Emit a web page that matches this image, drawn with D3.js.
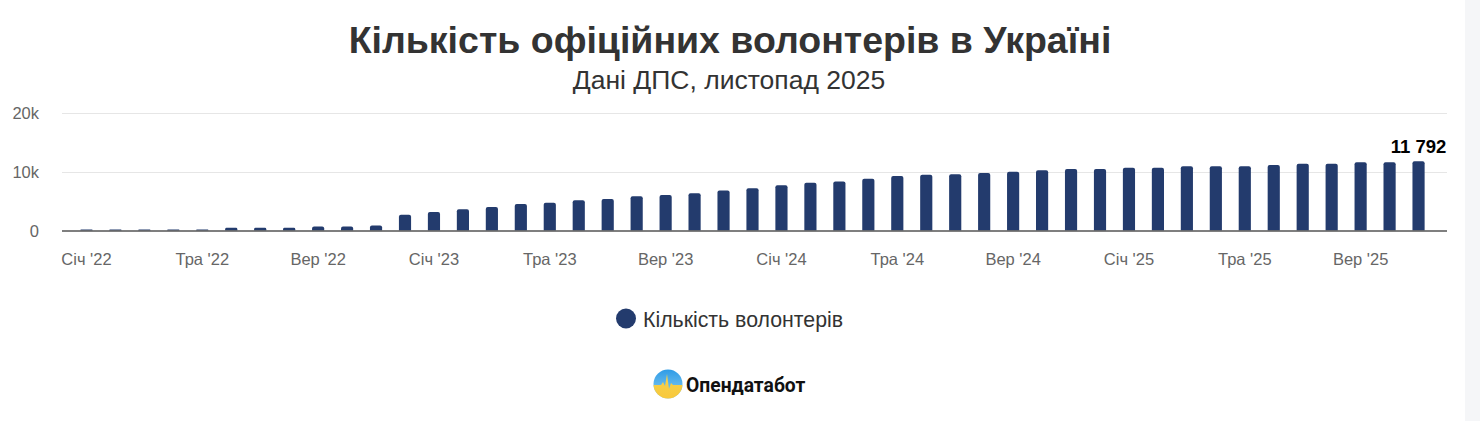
<!DOCTYPE html>
<html>
<head>
<meta charset="utf-8">
<script src="https://cdn.jsdelivr.net/npm/d3@7"></script>
<style>
  body { margin: 0; background: #f5f6f8; }
  svg { display: block; }
</style>
</head>
<body>
<svg id="chart" width="1480" height="421"></svg>
<script>
// monthly data, Jan 2022 - Nov 2025
var months = [
  "2022-01","2022-02","2022-03","2022-04","2022-05","2022-06","2022-07","2022-08","2022-09","2022-10","2022-11","2022-12",
  "2023-01","2023-02","2023-03","2023-04","2023-05","2023-06","2023-07","2023-08","2023-09","2023-10","2023-11","2023-12",
  "2024-01","2024-02","2024-03","2024-04","2024-05","2024-06","2024-07","2024-08","2024-09","2024-10","2024-11","2024-12",
  "2025-01","2025-02","2025-03","2025-04","2025-05","2025-06","2025-07","2025-08","2025-09","2025-10","2025-11"
];
var volunteers = [
  150, 150, 150, 150, 150, 460, 460, 460, 690, 690, 860, 2690,
  3140, 3600, 4000, 4510, 4740, 5140, 5370, 5830, 6060, 6340, 6800, 7200,
  7710, 8110, 8340, 8800, 9260, 9490, 9570, 9800, 10020, 10250, 10470, 10470,
  10700, 10700, 10920, 10920, 10920, 11150, 11380, 11380, 11600, 11600, 11792
];
var monthNames = ["Січ","Лют","Бер","Кві","Тра","Чер","Лип","Сер","Вер","Жов","Лис","Гру"];
var xTicks = ["2022-01","2022-05","2022-09","2023-01","2023-05","2023-09","2024-01","2024-05","2024-09","2025-01","2025-05","2025-09"];
var yTicks = [0, 10000, 20000];
var yTickLabels = ["0", "10k", "20k"];

var titleText = "Кількість офіційних волонтерів в Україні";
var subtitleText = "Дані ДПС, листопад 2025";
var seriesName = "Кількість волонтерів";
var barColor = "#233b6d";

var svg = d3.select("#chart");
var font = "'Liberation Sans', Arial, Helvetica, sans-serif";

// white chart card, grey page strip on the right
svg.append("rect").attr("x", 0).attr("y", 0).attr("width", 1465).attr("height", 421).attr("fill", "#fff");

var plotLeft = 62, plotRight = 1447;

var x = d3.scaleBand()
    .domain(months)
    .range([57.5, 1447.5])
    .paddingInner(0.58)
    .paddingOuter(0.79);

var y = d3.scaleLinear()
    .domain([0, 20000])
    .range([230.5, 113]);

// titles
svg.append("text")
    .attr("x", 730).attr("y", 53)
    .attr("text-anchor", "middle")
    .style("font-family", font).style("font-size", "37.5px").style("font-weight", "bold")
    .attr("fill", "#333")
    .text(titleText);

svg.append("text")
    .attr("x", 729).attr("y", 89)
    .attr("text-anchor", "middle")
    .style("font-family", font).style("font-size", "26.5px")
    .attr("fill", "#333")
    .text(subtitleText);

// grid
svg.append("g")
    .selectAll("line")
    .data(yTicks.slice(1))
    .enter()
    .append("line")
    .attr("x1", plotLeft).attr("x2", plotRight)
    .attr("y1", d => Math.round(y(d)) + 0.5).attr("y2", d => Math.round(y(d)) + 0.5)
    .attr("stroke", "#e6e6e6").attr("stroke-width", 1);

// y labels
svg.append("g")
    .selectAll("text")
    .data(yTicks)
    .enter()
    .append("text")
    .attr("x", 39)
    .attr("y", d => y(d) + 6)
    .attr("text-anchor", "end")
    .style("font-family", font).style("font-size", "16.5px")
    .attr("fill", "#666")
    .text((d, i) => yTickLabels[i]);

// bars
svg.append("g")
    .selectAll("path")
    .data(volunteers)
    .enter()
    .append("path")
    .attr("d", function(d, i) {
      var x0 = x(months[i]), w = x.bandwidth(), y0 = y(0), y1 = y(d);
      var r = Math.min(2, (y0 - y1) / 2);
      return "M" + x0 + "," + y0 +
        "V" + (y1 + r) +
        "Q" + x0 + "," + y1 + " " + (x0 + r) + "," + y1 +
        "H" + (x0 + w - r) +
        "Q" + (x0 + w) + "," + y1 + " " + (x0 + w) + "," + (y1 + r) +
        "V" + y0 + "Z";
    })
    .attr("fill", barColor);

// x axis line
svg.append("line")
    .attr("x1", plotLeft).attr("x2", plotRight)
    .attr("y1", 231).attr("y2", 231)
    .attr("stroke", "#555").attr("stroke-width", 1.3);

// x axis labels
var xAxis = d3.axisBottom(x)
    .tickValues(xTicks)
    .tickSize(0)
    .tickPadding(0)
    .tickFormat(function(m) {
      var parts = m.split("-");
      return monthNames[+parts[1] - 1] + " '" + parts[0].slice(2);
    });

var xg = svg.append("g")
    .attr("transform", "translate(0, 253)")
    .call(xAxis);
xg.select(".domain").remove();
xg.selectAll("text")
    .style("font-family", font).style("font-size", "16.5px")
    .attr("fill", "#666");

// last value label
var last = volunteers.length - 1;
svg.append("text")
    .attr("x", x(months[last]) + x.bandwidth() / 2)
    .attr("y", y(volunteers[last]) - 8)
    .attr("text-anchor", "middle")
    .style("font-family", font).style("font-size", "18.5px").style("font-weight", "bold")
    .attr("fill", "#000")
    .text(d3.format(",")(volunteers[last]).replace(",", " "));

// legend
var legend = svg.append("g");
legend.append("circle")
    .attr("cx", 626).attr("cy", 318.5).attr("r", 10)
    .attr("fill", barColor);
legend.append("text")
    .attr("x", 643).attr("y", 326.5)
    .style("font-family", font).style("font-size", "21.3px")
    .attr("fill", "#333")
    .text(seriesName);

// logo
var defs = svg.append("defs");
var gBlue = defs.append("linearGradient").attr("id", "logoBlue").attr("x1", 0).attr("y1", 0).attr("x2", 0).attr("y2", 1);
gBlue.append("stop").attr("offset", "0%").attr("stop-color", "#2d9be6");
gBlue.append("stop").attr("offset", "100%").attr("stop-color", "#8fd0f2");
var gYel = defs.append("linearGradient").attr("id", "logoYellow").attr("x1", 0).attr("y1", 0).attr("x2", 0).attr("y2", 1);
gYel.append("stop").attr("offset", "0%").attr("stop-color", "#f2d24e");
gYel.append("stop").attr("offset", "100%").attr("stop-color", "#f9c83a");
defs.append("clipPath").attr("id", "logoClip")
  .append("circle").attr("cx", 668).attr("cy", 384).attr("r", 14.5);

var logo = svg.append("g").attr("clip-path", "url(#logoClip)");
logo.append("rect").attr("x", 653).attr("y", 369).attr("width", 30).attr("height", 30).attr("fill", "url(#logoBlue)");
logo.append("path")
    .attr("d", "M653,385 L661,385 L663,382 L665,386 L667,374 L669,389 L671,383 L673,385 L683,385 L683,399 L653,399 Z")
    .attr("fill", "url(#logoYellow)");

svg.append("text")
    .attr("x", 686).attr("y", 391.5)
    .style("font-family", "Roboto, 'Noto Sans', sans-serif").style("font-size", "19.3px").style("font-weight", "bold")
    .attr("fill", "#111")
    .text("Опендатабот");
</script>
</body>
</html>
